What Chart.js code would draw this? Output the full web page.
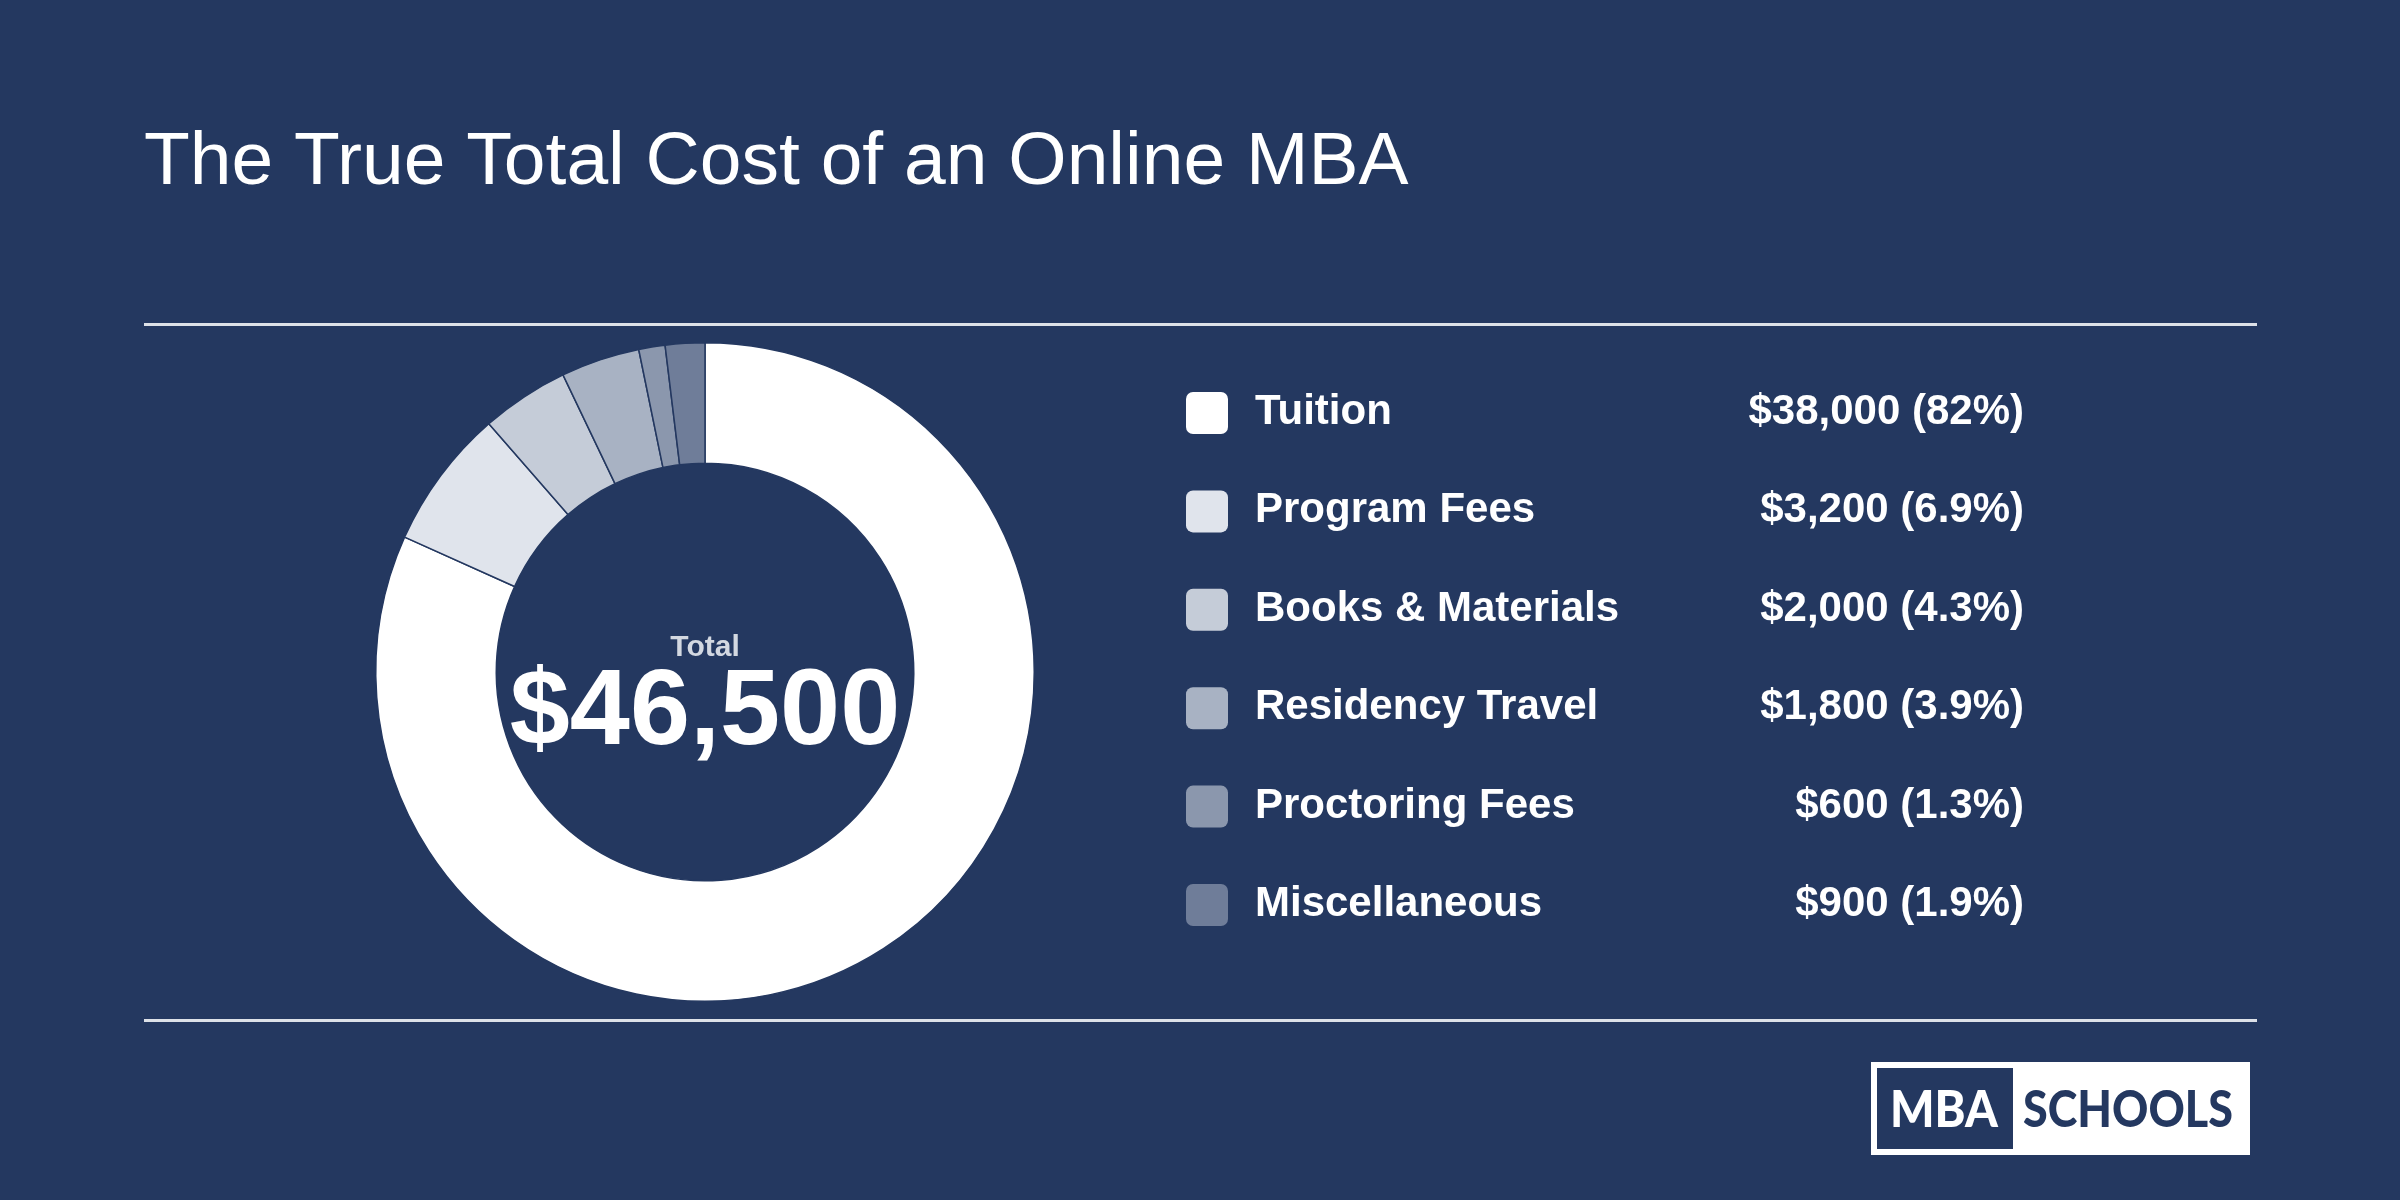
<!DOCTYPE html>
<html lang="en">
<head>
<meta charset="UTF-8">
<title>The True Total Cost of an Online MBA</title>
<style>
  html, body { margin: 0; padding: 0; background: #243860; }
  canvas { display: block; }
</style>
</head>
<body>
<canvas id="costChart" width="2400" height="1200"></canvas>
<script src="https://cdn.jsdelivr.net/npm/chart.js@4.4.0/dist/chart.umd.min.js"></script>
<script>
// data
const categories = ['Tuition', 'Program Fees', 'Books & Materials', 'Residency Travel', 'Proctoring Fees', 'Miscellaneous'];
const costs = [38000, 3200, 2000, 1800, 600, 900];
const shares = ['82%', '6.9%', '4.3%', '3.9%', '1.3%', '1.9%'];
const sliceColors = ['#ffffff', '#e0e4ec', '#c5ccd8', '#a8b2c3', '#8b97ad', '#6f7d99'];

const navy = '#243860';
const total = costs.reduce((a, b) => a + b, 0);
const money = v => '$' + v.toLocaleString('en-US');
const FONT = '"Liberation Sans", Arial, Helvetica, sans-serif';

// squeeze/stretch a string so it fills a given width
function fitText(ctx, txt, x, y, w) {
    const m = ctx.measureText(txt).width;
    ctx.save();
    ctx.translate(x, y);
    ctx.scale(w / m, 1);
    ctx.fillText(txt, 0, 0);
    ctx.restore();
}

const pagePlugin = {
    id: 'page',
    beforeDraw(chart) {
        const ctx = chart.ctx;
        ctx.save();
        ctx.fillStyle = navy;
        ctx.fillRect(0, 0, chart.width, chart.height);

        // title
        ctx.fillStyle = '#ffffff';
        ctx.font = '75px ' + FONT;
        ctx.textAlign = 'left';
        ctx.textBaseline = 'alphabetic';
        ctx.fillText('The True Total Cost of an Online MBA', 144, 184);

        // rules
        ctx.fillStyle = '#dde1e8';
        ctx.fillRect(144, 323, 2113, 3);
        ctx.fillRect(144, 1019, 2113, 3);
        ctx.restore();
    },
    afterDraw(chart) {
        const ctx = chart.ctx;
        const meta = chart.getDatasetMeta(0);
        const arc = meta.data[0];
        const cx = arc.x, cy = arc.y;
        ctx.save();

        // centre text
        ctx.textAlign = 'center';
        ctx.textBaseline = 'alphabetic';
        ctx.fillStyle = '#d3d8e1';
        ctx.font = 'bold 30px ' + FONT;
        ctx.fillText('Total', cx, 656);
        ctx.fillStyle = '#ffffff';
        ctx.font = 'bold 108px ' + FONT;
        ctx.fillText(money(total), cx, 744);

        // legend
        const colors = chart.data.datasets[0].backgroundColor;
        categories.forEach((name, i) => {
            const y = 413 + i * 98.4;
            ctx.fillStyle = colors[i];
            ctx.beginPath();
            ctx.roundRect(1186, y - 21, 42, 42, 7);
            ctx.fill();

            ctx.fillStyle = '#ffffff';
            ctx.font = 'bold 42px ' + FONT;
            ctx.textAlign = 'left';
            ctx.fillText(name, 1255, y + 11);
            ctx.textAlign = 'right';
            ctx.fillText(money(costs[i]) + ' (' + shares[i] + ')', 2024, y + 11);
        });

        // logo
        ctx.fillStyle = '#ffffff';
        ctx.fillRect(1871, 1062, 379, 93);
        ctx.fillStyle = navy;
        ctx.fillRect(1877, 1068, 136, 81);
        ctx.textAlign = 'left';
        ctx.font = '900 51px Lato, ' + FONT;
        ctx.fillStyle = '#ffffff';
        fitText(ctx, 'MBA', 1890, 1127, 108);
        ctx.fillStyle = navy;
        fitText(ctx, 'SCHOOLS', 2023, 1127, 210);
        ctx.restore();
    }
};

const ctx = document.getElementById('costChart').getContext('2d');
const costChart = new Chart(ctx, {
    type: 'doughnut',
    data: {
        labels: categories,
        datasets: [{
            data: costs,
            backgroundColor: sliceColors,
            borderColor: navy,
            borderWidth: 1.5,
            hoverOffset: 0
        }]
    },
    options: {
        responsive: false,
        devicePixelRatio: 1,
        animation: false,
        cutout: '63.4%',
        layout: {
            padding: { left: 375, right: 1365, top: 342, bottom: 198 }
        },
        plugins: {
            legend: { display: false },
            tooltip: { enabled: false }
        }
    },
    plugins: [pagePlugin]
});
</script>
</body>
</html>
